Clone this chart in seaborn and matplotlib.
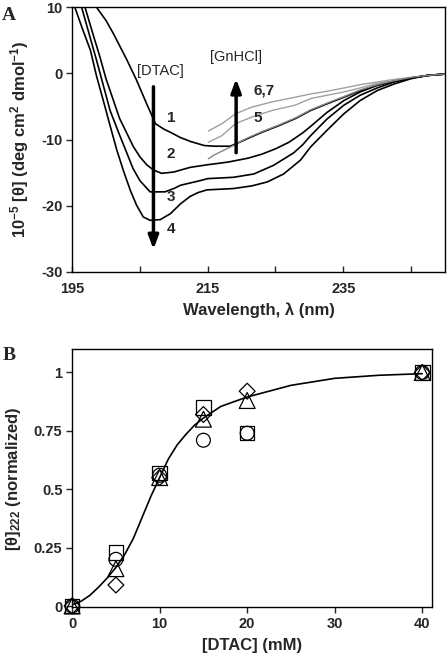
import matplotlib
matplotlib.use("Agg")
import matplotlib.pyplot as plt
import seaborn as sns

# panel A: CD spectra, wavelength (nm) vs 10^-5 [theta]
wl1 = [198.6, 200, 201.1, 202, 203.1, 204.5, 206.0, 207.3, 208.5, 209.5, 211, 212.5, 214.5, 216, 218.3,
       219.5, 221, 223, 225.5, 228, 230.2, 232.6, 235.1, 237.5, 240, 242.5, 245, 247.5, 250]
th1 = [10, 8.0, 6.0, 4.2, 2.0, -1.0, -4.6, -7.6, -8.4, -8.9, -9.7, -10.3, -10.9, -11.0, -11.0,
       -10.5, -9.8, -8.9, -7.9, -6.8, -5.6, -4.6, -3.6, -2.6, -1.8, -1.2, -0.7, -0.3, -0.1]

wl2 = [196.9, 198, 199.1, 200, 201.1, 202, 203.1, 204, 205, 206, 207, 208.2, 210, 212.4, 215, 218, 221,
       223, 225, 227, 229, 230.2, 232.6, 235.1, 237.5, 240, 242.5, 245, 247.5, 250]
th2 = [10, 6.2, 2.5, -0.8, -4.1, -6.8, -9.1, -11.0, -12.6, -13.8, -14.6, -15.1, -14.9, -14.2, -13.8, -13.4,
       -12.8, -12.2, -11.4, -10.4, -9.0, -8.0, -5.9, -4.1, -2.8, -1.8, -1.2, -0.7, -0.3, -0.1]

wl3 = [196.4, 197.5, 198.6, 199.6, 200.6, 202, 203.1, 204, 205, 206.5, 208.7, 210, 211, 213.9, 215, 218.8,
       221.8, 224.7, 227.7, 229, 230.2, 232.6, 235.1, 237.5, 240, 242.5, 245, 247.5, 250]
th3 = [10, 6.0, 2.0, -1.8, -5.6, -9.3, -12.1, -14.4, -16.2, -17.9, -17.9, -17.4, -16.9, -16.2, -15.9, -15.7,
       -15.2, -13.9, -12.0, -10.8, -9.4, -6.9, -4.8, -3.3, -2.2, -1.3, -0.7, -0.3, -0.1]

wl4 = [195.4, 196.5, 197.7, 198.6, 199.6, 200.6, 201.6, 202.6, 203.6, 204.5, 205.5, 206.5, 208.0, 209.5,
       211, 212.4, 213.6, 214.9, 218.8, 221.5, 223.8, 226.2, 228.7, 230.2, 232.6, 235.1, 237.5, 240, 242.5,
       245, 247.4, 250]
th4 = [10, 6.8, 3.5, -0.4, -4.1, -7.9, -11.6, -14.8, -17.7, -19.9, -21.7, -22.2, -22.1, -21.2,
       -19.7, -18.6, -18.0, -17.6, -17.4, -17.0, -16.4, -15.2, -13.1, -11.1, -8.6, -6.1, -4.1, -2.6, -1.6,
       -0.8, -0.3, -0.1]

wl5 = [215.1, 216, 217, 218, 219, 220, 221, 223, 225.5, 228, 230.2, 232.6, 235.1, 237.5, 240, 242.5, 245,
       247.5, 250]
th5 = [-12.9, -12.3, -11.8, -11.3, -10.8, -10.2, -9.7, -8.8, -7.8, -6.7, -5.5, -4.5, -3.5, -2.5, -1.7,
       -1.1, -0.6, -0.3, -0.1]

wl6 = [215.1, 217.1, 219.1, 221.5, 224.5, 227.9, 230.2, 232.6, 235.1, 237.5, 240, 242.5, 245, 247.5, 250]
th6 = [-8.7, -7.6, -6.1, -5.1, -4.3, -3.6, -3.1, -2.7, -2.2, -1.7, -1.3, -0.9, -0.6, -0.3, -0.1]

wl7 = [215.1, 217.1, 219.1, 221.5, 224.5, 227.9, 230.2, 232.6, 235.1, 237.5, 240, 242.5, 245, 247.5, 250]
th7 = [-10.4, -9.4, -7.6, -6.6, -5.6, -4.8, -3.8, -3.3, -2.8, -2.2, -1.5, -1.1, -0.7, -0.35, -0.1]

# panel B: normalized [theta]222 vs [DTAC]
dtac = [0, 5, 10, 15, 20, 40]
norm_sq = [0, 0.23, 0.57, 0.85, 0.74, 1.0]
norm_ci = [0, 0.20, 0.56, 0.71, 0.74, 1.0]
norm_tr = [0, 0.16, 0.55, 0.80, 0.88, 1.0]
norm_di = [0, 0.09, 0.55, 0.82, 0.92, 1.0]

fit_x = [0, 1, 2, 3, 4, 5, 6, 7, 8, 9, 10, 11, 12, 13, 14, 15, 17, 20, 22.5, 25, 30, 35, 40]
fit_y = [0.005, 0.02, 0.045, 0.08, 0.12, 0.165, 0.22, 0.29, 0.38, 0.47, 0.55, 0.63, 0.69, 0.735, 0.775,
         0.805, 0.855, 0.895, 0.92, 0.945, 0.975, 0.988, 0.995]

sns.set_style("ticks")
plt.rcParams["font.family"] = ["Liberation Sans", "DejaVu Sans"]
plt.rcParams["font.weight"] = "bold"
plt.rcParams["axes.labelweight"] = "bold"
plt.rcParams["axes.unicode_minus"] = False
plt.rcParams["mathtext.default"] = "regular"

fig = plt.figure(figsize=(4.48, 6.6), dpi=100)
axA = fig.add_axes([0.161, 0.588, 0.832, 0.401])
axB = fig.add_axes([0.161, 0.080, 0.803, 0.391])

grey = "#a0a0a0"
for wl, th in [(wl6, th6), (wl7, th7)]:
    sns.lineplot(x=wl, y=th, ax=axA, color=grey, lw=1.0, sort=False, estimator=None)
for wl, th in [(wl1, th1), (wl2, th2), (wl3, th3), (wl4, th4)]:
    sns.lineplot(x=wl, y=th, ax=axA, color="black", lw=1.2, sort=False, estimator=None)
sns.lineplot(x=wl5, y=th5, ax=axA, color="#858585", lw=1.0, sort=False, estimator=None)

axA.set_xlim(195, 250)
axA.set_ylim(-30, 10)
axA.set_xticks([195, 215, 235])
axA.set_xticks([205, 225, 245], minor=True)
axA.set_yticks([-30, -20, -10, 0, 10])
axA.set_xlabel("Wavelength, λ (nm)", fontsize=12, labelpad=5)
axA.set_ylabel("10$^{-5}$ [θ] (deg cm$^{2}$ dmol$^{-1}$)", fontsize=12, labelpad=7)

# arrows and labels
axA.annotate("", xy=(207.0, -27.0), xytext=(207.0, -1.6),
             arrowprops=dict(arrowstyle="-|>,head_width=0.3,head_length=0.8", color="black", lw=2.5))
axA.annotate("", xy=(219.2, -0.4), xytext=(219.2, -12.4),
             arrowprops=dict(arrowstyle="-|>,head_width=0.3,head_length=0.8", color="black", lw=2.5))
axA.text(208.0, 0.3, "[DTAC]", fontsize=10.5, fontweight="normal", ha="center", va="center")
axA.text(219.2, 2.5, "[GnHCl]", fontsize=10.5, fontweight="normal", ha="center", va="center")
for lx, ly, s in [(209.6, -6.7, "1"), (209.6, -12.2, "2"), (209.6, -18.7, "3"), (209.6, -23.5, "4"),
                  (223.3, -2.6, "6,7"), (222.4, -6.8, "5")]:
    axA.text(lx, ly, s, fontsize=11, fontweight="bold", ha="center", va="center")

# panel B
sns.lineplot(x=fit_x, y=fit_y, ax=axB, color="black", lw=1.2, sort=False, estimator=None)
mk = dict(facecolor="none", edgecolor="black", linewidth=0.9, clip_on=False, zorder=3)
sns.scatterplot(x=dtac, y=norm_sq, ax=axB, marker="s", s=110, **mk)
sns.scatterplot(x=dtac, y=norm_ci, ax=axB, marker="o", s=100, **mk)
sns.scatterplot(x=dtac, y=norm_tr, ax=axB, marker="^", s=130, **mk)
sns.scatterplot(x=dtac, y=norm_di, ax=axB, marker="D", s=65, **mk)

axB.set_xlim(0, 41.1)
axB.set_ylim(-0.005, 1.1)
axB.set_xticks([0, 10, 20, 30, 40])
axB.set_yticks([0, 0.25, 0.5, 0.75, 1])
axB.set_yticklabels(["0", "0.25", "0.5", "0.75", "1"])
axB.set_xlabel("[DTAC] (mM)", fontsize=12, labelpad=5)
axB.set_ylabel("[θ]$_{222}$ (normalized)", fontsize=12, labelpad=8)

for ax in (axA, axB):
    for sp in ax.spines.values():
        sp.set_linewidth(1.0)
        sp.set_color("black")
    ax.tick_params(axis="both", which="both", direction="out", length=4, width=1.0,
                   labelsize=10.5, pad=3)
    for lab in ax.get_xticklabels() + ax.get_yticklabels():
        lab.set_fontweight("bold")
axA.tick_params(axis="x", which="both", direction="in", pad=7)

fig.text(0.005, 0.99, "A", fontsize=14, fontweight="bold", family="Liberation Serif", va="top")
fig.text(0.005, 0.475, "B", fontsize=14, fontweight="bold", family="Liberation Serif", va="top")

fig.savefig("out.png", dpi=100, facecolor="white")
